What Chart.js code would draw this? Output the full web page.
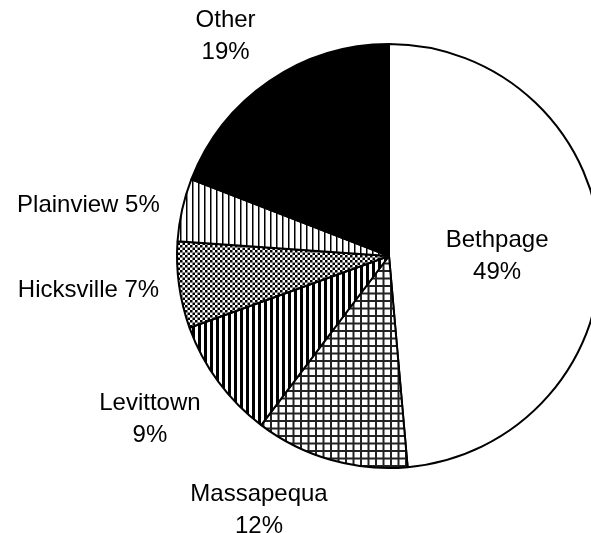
<!DOCTYPE html>
<html>
<head>
<meta charset="utf-8">
<script src="https://cdn.jsdelivr.net/npm/chart.js@4.4.1/dist/chart.umd.min.js"></script>
<style>
html,body{margin:0;padding:0;background:#fff;overflow:hidden;}
#wrap{width:620px;height:533px;}
</style>
</head>
<body>
<div id="wrap"><canvas id="c" width="620" height="533"></canvas></div>
<script>
// ---- data ----
const categories = ["Bethpage", "Massapequa", "Levittown", "Hicksville", "Plainview", "Other"];
const shares = [48.6, 11.7, 9.2, 6.6, 4.8, 19.1];
// label placement: angle (deg clockwise from top) and distance as fraction of radius
const labelAngle = [90, 207.1, 235.7, 263.4, 279.6, 323.3];
const labelDist = [0.51, 1.346, 1.365, 1.427, 1.438, 1.29];
const labelOneLine = [false, false, false, true, true, false];

function tile(w, h, draw) {
  const cv = document.createElement('canvas');
  cv.width = w; cv.height = h;
  const g = cv.getContext('2d');
  g.fillStyle = '#fff'; g.fillRect(0, 0, w, h);
  g.fillStyle = '#000';
  draw(g);
  return g.createPattern(cv, 'repeat');
}
const patGrid = tile(15, 15, g => {
  g.fillStyle = '#222';
  g.fillRect(0, 0, 2, 15); g.fillRect(7.5, 0, 2, 15);
  g.fillRect(0, 0, 15, 2); g.fillRect(0, 7.5, 15, 2);
});
const patBold = tile(6, 6, g => { g.fillRect(0, 0, 3, 6); });
const patCheck = tile(5, 5, g => { g.fillRect(0, 0, 2.5, 2.5); g.fillRect(2.5, 2.5, 2.5, 2.5); });
const patThin = tile(6, 6, g => { g.fillRect(0, 0, 1.5, 6); });
const fills = ['#ffffff', patGrid, patBold, patCheck, patThin, '#000000'];

const labelPlugin = {
  id: 'sliceLabels',
  afterDraw(chart) {
    const meta = chart.getDatasetMeta(0);
    const ctx = chart.ctx;
    ctx.save();
    ctx.fillStyle = '#000';
    ctx.font = '24px "Liberation Sans", Arial, sans-serif';
    ctx.textAlign = 'center';
    ctx.textBaseline = 'middle';
    meta.data.forEach((arc, i) => {
      const p = arc.getProps(['x', 'y', 'outerRadius'], true);
      const a = labelAngle[i] * Math.PI / 180;
      const d = labelDist[i] * p.outerRadius;
      const x = p.x + Math.sin(a) * d;
      const y = p.y - Math.cos(a) * d;
      const pct = Math.round(shares[i]) + '%';
      if (labelOneLine[i]) {
        ctx.fillText(categories[i] + ' ' + pct, x, y);
      } else {
        ctx.fillText(categories[i], x, y - 16);
        ctx.fillText(pct, x, y + 16);
      }
    });
    ctx.restore();
  }
};

new Chart(document.getElementById('c'), {
  type: 'pie',
  data: {
    labels: categories,
    datasets: [{
      data: shares,
      backgroundColor: fills,
      borderColor: '#000',
      borderWidth: 2,
      radius: 212
    }]
  },
  options: {
    responsive: false,
    animation: false,
    layout: { padding: { left: 170, right: 12, top: 30, bottom: 51 } },
    plugins: { legend: { display: false }, tooltip: { enabled: false } }
  },
  plugins: [labelPlugin]
});
</script>
</body>
</html>
